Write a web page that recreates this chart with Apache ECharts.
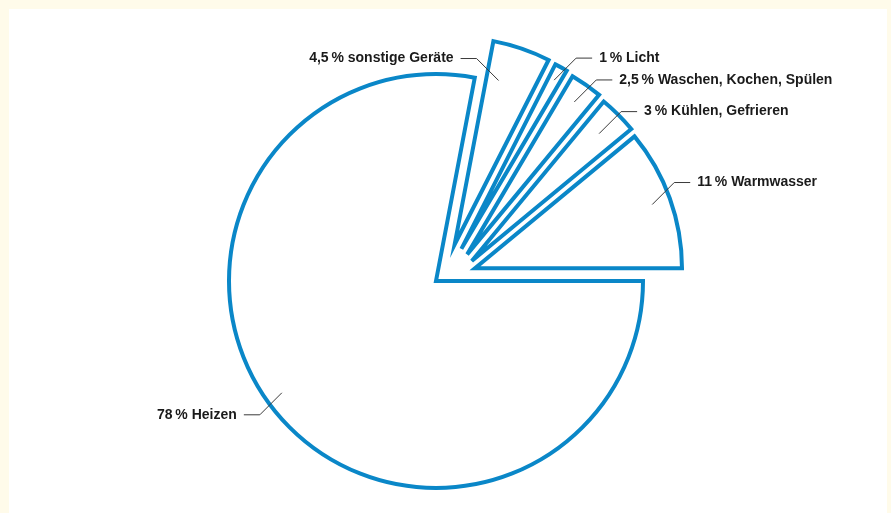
<!DOCTYPE html>
<html><head><meta charset="utf-8">
<script src="https://cdn.jsdelivr.net/npm/echarts@6/dist/echarts.min.js"></script>
<style>
html,body{margin:0;padding:0;background:#fffbea;width:891px;height:513px;overflow:hidden}
#chart{position:absolute;left:9px;top:9px;width:878px;height:504px;background:#fff}
</style></head><body><div id="chart"></div>
<script>
// Data (clockwise from 3 o'clock)
const categories = ['Heizen', 'sonstige Geräte', 'Licht', 'Waschen, Kochen, Spülen', 'Kühlen, Gefrieren', 'Warmwasser'];
const shares = [78, 4.5, 1, 2.5, 3, 11];
const shareLabels = ['78', '4,5', '1', '2,5', '3', '11'];
const exploded = [false, true, true, true, true, true];

// Label placement (style): side of the label, depth and angular position of the leader-line anchor in the slice
const labelSide = [-1, -1, 1, 1, 1, 1];
const labelAnchor = [0.92, 0.82, 0.93, 0.9, 0.87, 0.91];
const labelAnchorT = [0.513, 0.26, 0.5, 0.5, 0.5, 0.5];

// Layout / style
const CX = 427, CY = 272, R = 207;
const EXPLODE = 41;                 // explode distance (px)
const FAN_FROM = 18, FAN_TO = 63;   // explode directions fanned evenly (deg)
const BLUE = '#0a87c8';

const total = shares.reduce((a, b) => a + b, 0);
let cum = 0;
const mids = [], anchors = [];
shares.forEach((v, i) => {
  mids.push(-(cum + v / 2) / total * 2 * Math.PI);
  anchors.push(-(cum + v * labelAnchorT[i]) / total * 2 * Math.PI);
  cum += v;
});
const norm = a => ((a * 180 / Math.PI) % 360 + 360) % 360;
const expIdx = mids.map((m, i) => i).filter(i => exploded[i]).sort((a, b) => norm(mids[a]) - norm(mids[b]));
const centers = mids.map((m, i) => {
  if (!exploded[i]) return [CX, CY];
  const k = expIdx.indexOf(i);
  const d = (FAN_FROM + (FAN_TO - FAN_FROM) * k / (expIdx.length - 1)) * Math.PI / 180;
  return [CX + EXPLODE * Math.cos(d), CY - EXPLODE * Math.sin(d)];
});

function labelGeom(i) {
  const a = anchors[i], c = centers[i];
  const f = labelAnchor[i];
  const ix = c[0] + f * R * Math.cos(a), iy = c[1] - f * R * Math.sin(a);
  const sx = labelSide[i];
  const sy = -Math.sin(a) >= 0 ? 1 : -1;
  const ex = ix + 22 * sx, ey = iy + 22 * sy;
  const hx = ex + 16 * sx;
  return {
    x: hx + 7 * sx, y: ey,
    align: sx > 0 ? 'left' : 'right',
    verticalAlign: 'middle',
    labelLinePoints: [[ix, iy], [ex, ey], [hx, ey]]
  };
}

const baseSeries = (i) => ({
  type: 'pie',
  center: centers[i],
  radius: R,
  startAngle: 0,
  clockwise: true,
  avoidLabelOverlap: false,
  silent: true,
  animation: false,
  emphasis: { disabled: true }
});

const hidden = (n, v) => ({
  name: n, value: v,
  itemStyle: { color: 'rgba(0,0,0,0)', borderWidth: 0 },
  label: { show: false }, labelLine: { show: false }
});

// Layer 1: the slices
const sliceSeries = categories.map((name, i) => Object.assign(baseSeries(i), {
  z: 2,
  label: { show: false }, labelLine: { show: false },
  data: categories.map((n, j) => (j === i ? {
    name: n, value: shares[j],
    itemStyle: { color: '#ffffff', borderColor: BLUE, borderWidth: 4, borderJoin: 'miter' }
  } : hidden(n, shares[j])))
}));

// Layer 2: labels and leader lines on top
const labelSeries = categories.map((name, i) => Object.assign(baseSeries(i), {
  z: 3,
  labelLayout: () => labelGeom(i),
  data: categories.map((n, j) => (j === i ? {
    name: n, value: shares[j],
    itemStyle: { color: 'rgba(0,0,0,0)', borderWidth: 0 },
    label: {
      show: true, position: 'outside',
      formatter: shareLabels[j] + '\u2009% ' + n,
      fontFamily: 'Liberation Sans, Arial, sans-serif', fontWeight: 'bold', fontSize: 14, color: '#1a1a1a'
    },
    labelLine: { show: true, lineStyle: { color: '#3a3a3a', width: 1 } }
  } : hidden(n, shares[j])))
}));

const chart = echarts.init(document.getElementById('chart'), null, { renderer: 'canvas' });
chart.setOption({ animation: false, backgroundColor: '#ffffff', series: sliceSeries.concat(labelSeries) });
</script></body></html>
